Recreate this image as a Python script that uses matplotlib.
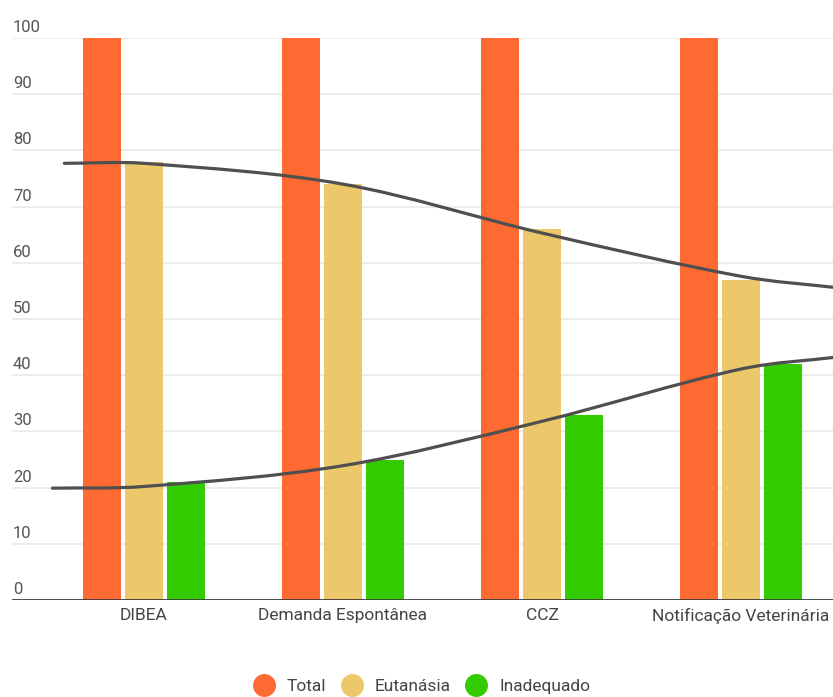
import numpy as np
import matplotlib
matplotlib.use("Agg")
import matplotlib.pyplot as plt
from matplotlib.path import Path
from matplotlib.patches import PathPatch
from matplotlib.lines import Line2D
import matplotlib.transforms as mtransforms

plt.rcParams['font.family'] = ['Roboto', 'DejaVu Sans']

# --- data -------------------------------------------------------------
categories = ["DIBEA", "Demanda Espontânea", "CCZ", "Notificação Veterinária"]
total = [100, 100, 100, 100]
eutanasia = [78, 74, 66, 57]
inadequado = [21, 25, 33, 42]

series_names = ["Total", "Eutanásia", "Inadequado"]
series_colors = ["#FF6A33", "#ECC86A", "#33CC00"]

# smoothed trend curves: x in category units, y in %
upper_trend_x = [-0.40, 0, 1, 2, 3, 3.50]
upper_trend_y = [77.7, 77.7, 74.0, 65.3, 57.6, 55.5]
lower_trend_x = [-0.46, 0, 1, 2, 3, 3.50]
lower_trend_y = [19.9, 20.2, 23.9, 31.8, 41.1, 43.3]

y_ticks = [0, 10, 20, 30, 40, 50, 60, 70, 80, 90, 100]


def smooth_curve(xs, ys):
    """Cubic Bezier path through the given points (Hermite tangents)."""
    xs = np.asarray(xs, float)
    ys = np.asarray(ys, float)
    n = len(xs)
    m = np.empty(n)
    m[0] = (ys[1] - ys[0]) / (xs[1] - xs[0])
    m[-1] = (ys[-1] - ys[-2]) / (xs[-1] - xs[-2])
    for i in range(1, n - 1):
        m[i] = (ys[i + 1] - ys[i - 1]) / (xs[i + 1] - xs[i - 1])
    verts = [(xs[0], ys[0])]
    codes = [Path.MOVETO]
    for i in range(n - 1):
        dx = xs[i + 1] - xs[i]
        verts += [(xs[i] + dx / 3, ys[i] + m[i] * dx / 3),
                  (xs[i + 1] - dx / 3, ys[i + 1] - m[i + 1] * dx / 3),
                  (xs[i + 1], ys[i + 1])]
        codes += [Path.CURVE4] * 3
    return Path(verts, codes)


fig = plt.figure(figsize=(8.33, 6.97), dpi=100)
ax = fig.add_axes([12 / 833, 97 / 697, 821 / 833, 562 / 697])

x = np.arange(len(categories))
bar_w = 0.19
offsets = [-0.21, 0.0, 0.21]
for vals, off, col in zip([total, eutanasia, inadequado], offsets, series_colors):
    ax.bar(x + off, vals, width=bar_w, color=col, zorder=2, linewidth=0)

for xs, ys in [(upper_trend_x, upper_trend_y), (lower_trend_x, lower_trend_y)]:
    ax.add_patch(PathPatch(smooth_curve(xs, ys), fill=False,
                           edgecolor="#4F4F4F", linewidth=2.3, zorder=4,
                           capstyle="round"))

ax.set_xlim(-0.663, 3.462)
ax.set_ylim(0, 100)

# gridlines and baseline
for t in y_ticks[1:]:
    ax.axhline(t, color="#EAEAEA", linewidth=1.3, zorder=1)
ax.axhline(0, color="#3A3A3A", linewidth=2.0, zorder=5)

for s in ax.spines.values():
    s.set_visible(False)

ax.set_yticks([])
ax.set_xticks(x, categories)
ax.tick_params(axis="x", length=0, pad=5.5, labelsize=12.5, labelcolor="#444444")

# y labels sit above their gridlines at the left edge
trans = mtransforms.blended_transform_factory(ax.transAxes, ax.transData)
trans = trans + mtransforms.ScaledTranslation(1 / 100, 6 / 100, fig.dpi_scale_trans)
for t in y_ticks:
    ax.text(0, t, str(t), transform=trans, ha="left", va="baseline",
            fontsize=12, color="#555555")

handles = [Line2D([], [], marker="o", linestyle="none", markersize=15.5,
                  markerfacecolor=c, markeredgecolor=c) for c in series_colors]
fig.legend(handles, series_names, loc="center", ncol=3, frameon=False,
           bbox_to_anchor=(0.507, 1 - 686 / 697), fontsize=12.5,
           handlelength=1.1, handletextpad=0.8, columnspacing=0.9,
           labelcolor="#444444")

fig.savefig("out.png", dpi=100)
